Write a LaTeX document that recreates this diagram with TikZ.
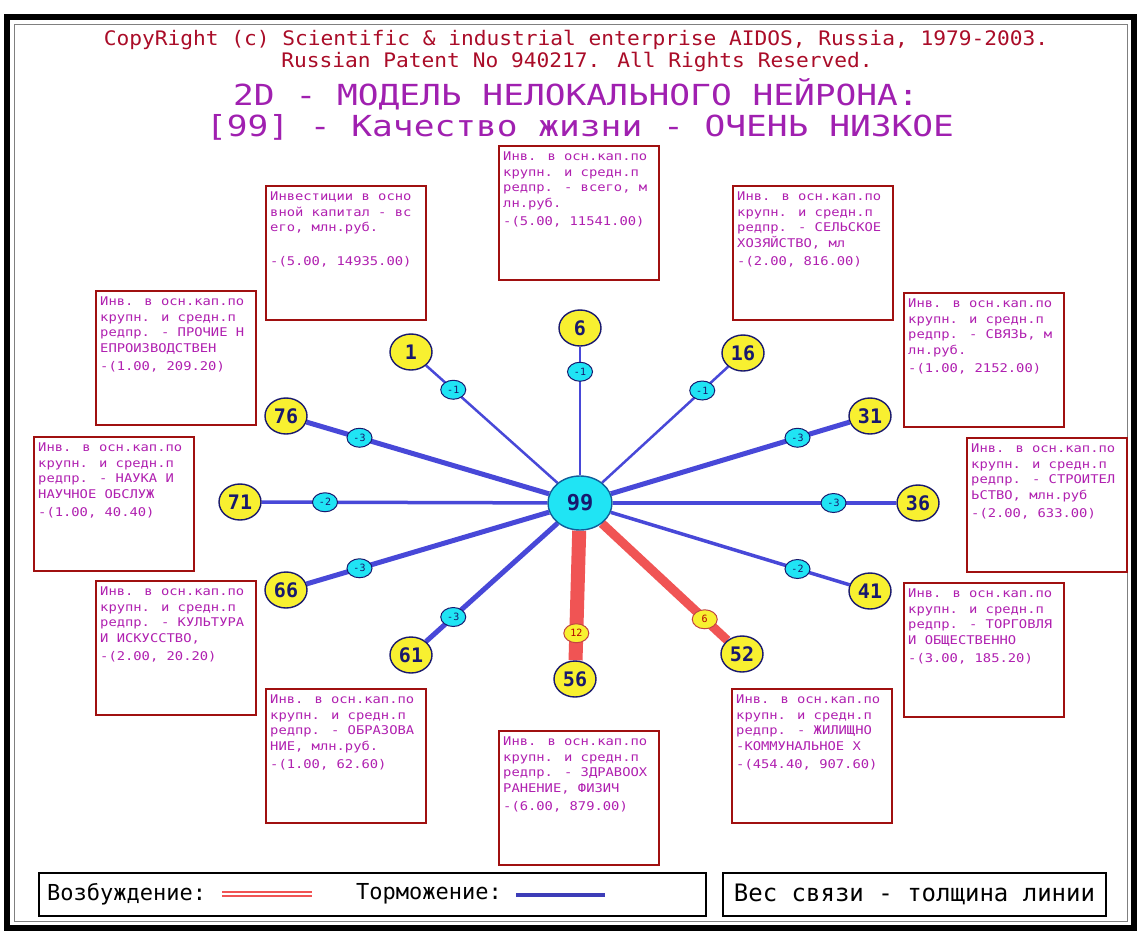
\documentclass[tikz,border=0pt]{standalone}
\usepackage{fontspec}
\setmainfont{DejaVu Sans}
\newfontfamily\dosfont{DejaVu Sans Mono}
\newfontfamily\boxfont{DejaVu Sans Mono}[FakeStretch=1.15]
\newfontfamily\hdrfont{DejaVu Sans Mono}[FakeStretch=1.06]
\newfontfamily\ttlfont{DejaVu Sans Mono}[FakeStretch=1.19]
\usetikzlibrary{shapes.geometric,calc,backgrounds}

\definecolor{frameRed}{RGB}{160,16,16}
\definecolor{boxText}{RGB}{176,32,176}
\definecolor{hdrRed}{RGB}{170,12,40}
\definecolor{ttlPurple}{RGB}{160,32,176}
\definecolor{nodeYellow}{RGB}{248,240,48}
\definecolor{nodeCyan}{RGB}{32,228,244}
\definecolor{navy}{RGB}{24,24,110}
\definecolor{inhib}{RGB}{72,72,216}
\definecolor{excit}{RGB}{240,84,84}

\tikzset{
  ibox/.style={draw=frameRed, line width=1.5, fill=white, anchor=north west,
    minimum width=160, minimum height=134, inner sep=0},
  itext/.style={anchor=north west, inner sep=0, align=left, text=boxText,
    font=\boxfont\fontsize{12}{15.5}\selectfont},
  outer/.style={ellipse, draw=navy, line width=1.4, fill=nodeYellow,
    minimum width=42, minimum height=36, inner sep=0, text=navy,
    font=\dosfont\bfseries\fontsize{20}{20}\selectfont},
  hub/.style={ellipse, draw=navy!70!cyan, line width=1.4, fill=nodeCyan,
    minimum width=64, minimum height=54, inner sep=0, text=navy,
    font=\dosfont\bfseries\fontsize{22}{22}\selectfont},
  wlab/.style={ellipse, draw=navy, line width=1, fill=nodeCyan,
    minimum width=25, minimum height=19, inner sep=0, text=navy,
    font=\dosfont\fontsize{10}{10}\selectfont},
  elab/.style={wlab, fill=nodeYellow, draw=excit!80!black, text=red!70!black},
  inh/.style={draw=inhib},
  exc/.style={draw=excit},
  legbox/.style={draw=black, line width=2, anchor=north west, inner sep=0},
  legtext/.style={anchor=west, inner sep=0, text=black,
    font=\dosfont\fontsize{22}{22}\selectfont},
}

% one information box: name, top-left corner, text
\newcommand\makeinfobox[4]{%
  \node[ibox] (#1) at (#2,#3) {};
  \node[itext] (#1t) at ([shift={(5,7)}]#1.north west) {#4};
}

\begin{document}
\begin{tikzpicture}[x=1pt, y=-1pt]
\useasboundingbox (0,0) rectangle (1141,932);
\begin{pgfonlayer}{background}
\fill[white] (0,0) rectangle (1141,932);
\end{pgfonlayer}

% window frame
\draw[line width=6, black] (7,17) rectangle (1134,928);
\draw[line width=1, gray] (14,24) rectangle (1127,921);

% headings
\node[font=\hdrfont\fontsize{20}{24}\selectfont, text=hdrRed] (hdr1) at (576,40)
  {CopyRight (c) Scientific \& industrial enterprise AIDOS, Russia, 1979-2003.};
\node[font=\hdrfont\fontsize{20}{24}\selectfont, text=hdrRed] (hdr2) at (577,62)
  {Russian Patent No 940217. All Rights Reserved.};
\node[font=\ttlfont\fontsize{29}{32}\selectfont, text=ttlPurple] (ttl1) at (576,94)
  {2D - МОДЕЛЬ НЕЛОКАЛЬНОГО НЕЙРОНА:};
\node[font=\ttlfont\fontsize{29}{32}\selectfont, text=ttlPurple] (ttl2) at (580,127)
  {[99] - Качество жизни - ОЧЕНЬ НИЗКОЕ};

% information boxes
\makeinfobox{b6}{498}{145}{Инв. в осн.кап.по\\крупн. и средн.п\\редпр. - всего, м\\лн.руб.\\[3pt]-(5.00, 11541.00)}
\makeinfobox{b1}{265}{185}{Инвестиции в осно\\вной капитал - вс\\его, млн.руб.\\[18pt]-(5.00, 14935.00)}
\makeinfobox{b16}{732}{185}{Инв. в осн.кап.по\\крупн. и средн.п\\редпр. - СЕЛЬСКОЕ\\ХОЗЯЙСТВО, мл\\[3pt]-(2.00, 816.00)}
\makeinfobox{b76}{95}{290}{Инв. в осн.кап.по\\крупн. и средн.п\\редпр. - ПРОЧИЕ Н\\ЕПРОИЗВОДСТВЕН\\[3pt]-(1.00, 209.20)}
\makeinfobox{b31}{903}{292}{Инв. в осн.кап.по\\крупн. и средн.п\\редпр. - СВЯЗЬ, м\\лн.руб.\\[3pt]-(1.00, 2152.00)}
\makeinfobox{b71}{33}{436}{Инв. в осн.кап.по\\крупн. и средн.п\\редпр. - НАУКА И\\НАУЧНОЕ ОБСЛУЖ\\[3pt]-(1.00, 40.40)}
\makeinfobox{b36}{966}{437}{Инв. в осн.кап.по\\крупн. и средн.п\\редпр. - СТРОИТЕЛ\\ЬСТВО, млн.руб\\[3pt]-(2.00, 633.00)}
\makeinfobox{b66}{95}{580}{Инв. в осн.кап.по\\крупн. и средн.п\\редпр. - КУЛЬТУРА\\И ИСКУССТВО,\\[3pt]-(2.00, 20.20)}
\makeinfobox{b41}{903}{582}{Инв. в осн.кап.по\\крупн. и средн.п\\редпр. - ТОРГОВЛЯ\\И ОБЩЕСТВЕННО\\[3pt]-(3.00, 185.20)}
\makeinfobox{b61}{265}{688}{Инв. в осн.кап.по\\крупн. и средн.п\\редпр. - ОБРАЗОВА\\НИЕ, млн.руб.\\[3pt]-(1.00, 62.60)}
\makeinfobox{b56}{498}{730}{Инв. в осн.кап.по\\крупн. и средн.п\\редпр. - ЗДРАВООХ\\РАНЕНИЕ, ФИЗИЧ\\[3pt]-(6.00, 879.00)}
\makeinfobox{b52}{731}{688}{Инв. в осн.кап.по\\крупн. и средн.п\\редпр. - ЖИЛИЩНО\\-КОММУНАЛЬНОЕ Х\\[3pt]-(454.40, 907.60)}

% neurons
\node[hub] (c) at (580,503) {99};
\node[outer] (n6)  at (580,328) {6};
\node[outer] (n16) at (743,353) {16};
\node[outer] (n31) at (870,416) {31};
\node[outer] (n36) at (918,503) {36};
\node[outer] (n41) at (870,591) {41};
\node[outer] (n52) at (742,654) {52};
\node[outer] (n56) at (575,679) {56};
\node[outer] (n61) at (411,655) {61};
\node[outer] (n66) at (286,590) {66};
\node[outer] (n71) at (240,502) {71};
\node[outer] (n76) at (286,416) {76};
\node[outer] (n1)  at (411,352) {1};

% links: line width is the weight of the link
\begin{pgfonlayer}{background}
\foreach \n/\w in {6/2.5, 16/2.5, 1/2.5, 31/5, 76/5, 66/5, 61/5, 36/3.5, 71/3.5, 41/3.5}
  \draw[inh, line width=\w] (c) -- (n\n);
\draw[exc, line width=9] (c) -- (n52);
\draw[exc, line width=14] (c) -- (n56);
\end{pgfonlayer}

% link weights
\foreach \n/\v in {6/-1, 16/-1, 1/-1, 31/-3, 76/-3, 66/-3, 61/-3, 36/-3, 71/-2, 41/-2}
  \node[wlab] (w\n) at ($(c.center)!0.75!(n\n.center)$) {\v};
\node[elab] (w52) at ($(c.center)!0.77!(n52.center)$) {6};
\node[elab] (w56) at ($(c.center)!0.74!(n56.center)$) {12};

% legend
\node[legbox, minimum width=667, minimum height=43] (leg1) at (38,872) {};
\node[legbox, minimum width=383, minimum height=43] (leg2) at (722,872) {};
\node[legtext] (lgE) at (47,894) {Возбуждение:};
\coordinate (eA) at (222,894);
\coordinate (eB) at (312,894);
\draw[excit, line width=1.4, double=white, double distance=2.6] (eA) -- (eB);
\node[legtext] (lgI) at (356,894) {Торможение:};
\coordinate (iA) at (516,895);
\coordinate (iB) at (605,895);
\draw[inhib!85!black, line width=4] (iA) -- (iB);
\node[legtext, anchor=center, font=\dosfont\fontsize{24}{24}\selectfont] (lgW) at (leg2.center) {Вес связи - толщина линии};
\end{tikzpicture}
\end{document}
